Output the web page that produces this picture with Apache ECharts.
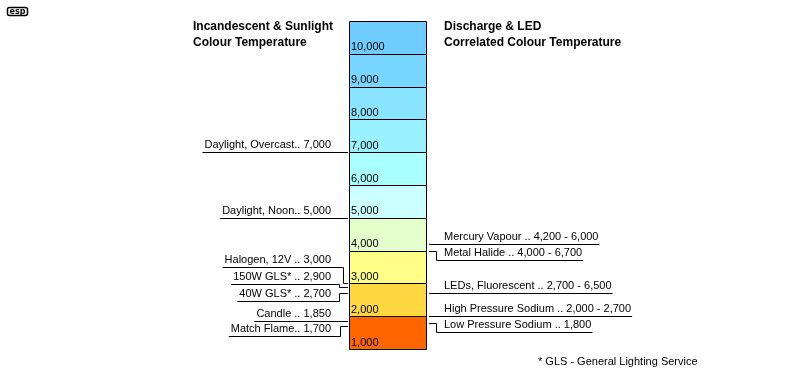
<!DOCTYPE html>
<html><head><meta charset="utf-8">
<script src="https://cdn.jsdelivr.net/npm/echarts@6/dist/echarts.min.js"></script>
<style>html,body{margin:0;padding:0;background:#fff}#c{width:800px;height:380px}</style>
</head><body><div id="c"></div>
<script>
// ---- data ----
const cellValues = [1000, 2000, 3000, 4000, 5000, 6000, 7000, 8000, 9000, 10000];
const cellLabels = ['1,000', '2,000', '3,000', '4,000', '5,000', '6,000', '7,000', '8,000', '9,000', '10,000'];
const axisTop = 11000;

const leftNames = ['Daylight, Overcast.. 7,000', 'Daylight, Noon.. 5,000', 'Halogen, 12V .. 3,000',
  '150W GLS* .. 2,900', '40W GLS* .. 2,700', 'Candle .. 1,850', 'Match Flame.. 1,700'];
const leftValues = [7000, 5000, 3000, 2900, 2700, 1850, 1700];

const rightNames = ['Mercury Vapour .. 4,200 - 6,000', 'Metal Halide .. 4,000 - 6,700',
  'LEDs, Fluorescent .. 2,700 - 6,500', 'High Pressure Sodium .. 2,000 - 2,700', 'Low Pressure Sodium .. 1,800'];
const rightValues = [4200, 4000, 2700, 2000, 1800];

const leftTitle = ['Incandescent & Sunlight', 'Colour Temperature'];
const rightTitle = ['Discharge & LED', 'Correlated Colour Temperature'];
const footnote = '* GLS - General Lighting Service';

// ---- styles / layout ----
const cellColors = ['#FF6600', '#FFD740', '#FFFF88', '#E5FFCC', '#CCFFFF', '#AAFFFF', '#99F0FF', '#88E4FF', '#78D5FF', '#70CCFF'];
const colLeft = 349, colRight = 426;
const leftOffsets = [0, 0, -16, -3, 8, 0, 10];   // pixel shift of the text underline
const leftJogX = [0, 0, 343, 339, 339, 0, 340];
const rightOffsets = [0, 9, 0, 0, 9];
const rightJogX = 436;
const FONT = '11px "Liberation Sans", Arial, sans-serif';
const BFONT = 'bold 12px "Liberation Sans", Arial, sans-serif';

const mctx = document.createElement('canvas').getContext('2d');
mctx.font = FONT;
const tw = s => mctx.measureText(s).width;

const chart = echarts.init(document.getElementById('c'), null, {renderer: 'canvas'});

const cellData = cellValues.map((v, i) => [v, i < cellValues.length - 1 ? cellValues[i + 1] : axisTop, i]);

chart.setOption({
  animation: false,
  backgroundColor: '#fff',
  grid: {left: 0, right: 0, top: 21, bottom: 31},
  xAxis: {type: 'value', min: 0, max: 800, show: false},
  yAxis: {type: 'value', min: 1000, max: axisTop, show: false},
  graphic: [
    {type: 'rect', shape: {x: 7.5, y: 7.5, width: 20, height: 8, r: 2}, style: {fill: '#fff', stroke: '#000', lineWidth: 1.5}},
    {type: 'text', style: {text: 'esp', x: 17.5, y: 11.5, font: 'bold 8px "DejaVu Sans", sans-serif', fill: '#000', align: 'center', verticalAlign: 'middle'}},
    {type: 'text', style: {text: leftTitle.join('\n'), x: 193, y: 19, font: BFONT, lineHeight: 16, fill: '#000', align: 'left', verticalAlign: 'top'}},
    {type: 'text', style: {text: rightTitle.join('\n'), x: 444, y: 19, font: BFONT, lineHeight: 16, fill: '#000', align: 'left', verticalAlign: 'top'}},
    {type: 'text', style: {text: footnote, x: 538, y: 362, font: FONT, fill: '#000', align: 'left', verticalAlign: 'middle'}}
  ],
  series: [
    {
      type: 'custom',
      coordinateSystem: 'cartesian2d',
      data: cellData,
      renderItem: (params, api) => {
        const lo = api.value(0), hi = api.value(1), i = api.value(2);
        const p0 = api.coord([colLeft, lo]);
        const p1 = api.coord([colRight, hi]);
        return {
          type: 'group',
          children: [
            {type: 'rect', shape: {x: Math.round(p0[0]) + 0.5, y: Math.round(p1[1]) + 0.5, width: Math.round(p1[0] - p0[0]), height: Math.round(p0[1]) - Math.round(p1[1])},
             style: {fill: cellColors[i], stroke: '#000', lineWidth: 1}},
            {type: 'text', style: {text: cellLabels[i], x: p0[0] + 2, y: p0[1] - 1, font: FONT, fill: '#000', align: 'left', verticalAlign: 'bottom'}}
          ]
        };
      }
    },
    {
      type: 'custom',
      coordinateSystem: 'cartesian2d',
      data: leftValues.map((v, i) => [colLeft, v, i]),
      renderItem: (params, api) => {
        const i = api.value(2);
        const p = api.coord([colLeft, api.value(1)]);
        const vy = Math.round(p[1]) + 0.5;
        const uy = vy + leftOffsets[i];
        const txt = leftNames[i];
        const tRight = 331;
        const x0 = tRight - tw(txt) - 2;
        let pts;
        if (leftJogX[i]) {
          const jx = leftJogX[i] + 0.5;
          pts = [[x0, uy], [jx, uy], [jx, vy], [colLeft - 1, vy]];
        } else {
          pts = [[x0, vy], [colLeft - 1, vy]];
        }
        return {
          type: 'group',
          children: [
            {type: 'polyline', shape: {points: pts}, style: {stroke: '#000', lineWidth: 1, fill: null}},
            {type: 'text', style: {text: txt, x: tRight, y: uy - 2, font: FONT, fill: '#000', align: 'right', verticalAlign: 'bottom'}}
          ]
        };
      }
    },
    {
      type: 'custom',
      coordinateSystem: 'cartesian2d',
      data: rightValues.map((v, i) => [colRight, v, i]),
      renderItem: (params, api) => {
        const i = api.value(2);
        const p = api.coord([colRight, api.value(1)]);
        const vy = Math.round(p[1]) + 0.5;
        const uy = vy + rightOffsets[i];
        const txt = rightNames[i];
        const tLeft = 444;
        const x1 = tLeft + tw(txt) + 1;
        let pts;
        if (rightOffsets[i]) {
          const jx = rightJogX + 0.5;
          pts = [[colRight + 3, vy], [jx, vy], [jx, uy], [x1, uy]];
        } else {
          pts = [[colRight + 3, vy], [x1, vy]];
        }
        return {
          type: 'group',
          children: [
            {type: 'polyline', shape: {points: pts}, style: {stroke: '#000', lineWidth: 1, fill: null}},
            {type: 'text', style: {text: txt, x: tLeft, y: uy - 2, font: FONT, fill: '#000', align: 'left', verticalAlign: 'bottom'}}
          ]
        };
      }
    }
  ]
});
</script>
</body></html>
